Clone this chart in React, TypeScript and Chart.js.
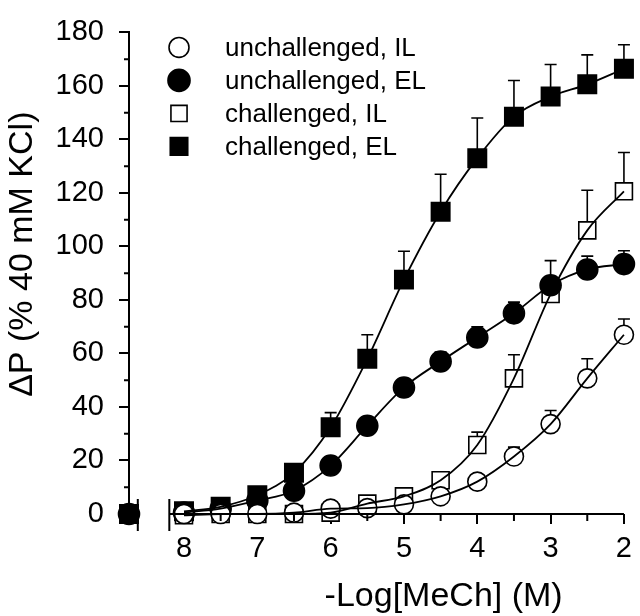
import React, { useEffect, useRef } from "react";
import { Chart, registerables } from "chart.js";

Chart.register(...registerables);

// ---- data ----
const doses = [8, 7.5, 7, 6.5, 6, 5.5, 5, 4.5, 4, 3.5, 3, 2.5, 2];
const baselineDose = 8.75;

const seriesLabels = ["unchallenged, IL", "unchallenged, EL", "challenged, IL", "challenged, EL"];

const unchallengedIL = [0, 0, 0, 0.5, 2, 2.2, 3.6, 6.6, 12.1, 21.5, 33.6, 50.7, 67];
const unchallengedILErr = [0, 0, 0, 0, 0, 0, 0.8, 1, 1.5, 3.5, 5.1, 7.3, 5.9];

const unchallengedEL = [0.5, 2, 5, 8.7, 18.1, 33, 47.3, 57, 66, 75, 85.5, 91.4, 93.4];
const unchallengedELErr = [0, 0, 0, 0, 1, 1.5, 2.5, 3.5, 4, 4.2, 3, 5, 5];

const challengedIL = [-0.5, 0, 0, 0, 0.5, 3.9, 6.6, 12.6, 25.8, 50.7, 82.2, 106, 120.6];
const challengedILErr = [0, 0, 0, 0, 0, 0, 0, 1.5, 4.8, 8.8, 12.5, 15, 14.5];

const challengedEL = [1, 2.7, 7, 15.4, 32.4, 58, 87.6, 113, 133, 148.5, 156, 160.6, 166.4];
const challengedELErr = [0, 0, 0, 0, 5.5, 9, 10.6, 14, 15, 13.5, 12, 11, 9];

const baselineValues = [0, 0, 0, 0];

const xMajorTicks = [8, 7, 6, 5, 4, 3, 2];
const xMinorTicks = [7.5, 6.5, 5.5, 4.5, 3.5, 2.5];
const yMinorTicks = [10, 30, 50, 70, 90, 110, 130, 150, 170];
const xBreak = [8.63, 8.2];
const xTitleCenter = 4.5;

const xTitle = "-Log[MeCh] (M)";
const yTitle = "ΔP (% 40 mM KCl)";

const FONT = "'Liberation Sans', Arial, Helvetica, sans-serif";

type Series = {
  label: string;
  values: number[];
  err: number[];
  style: "circle" | "rect";
  filled: boolean;
  radius: number;
};

const series: Series[] = [
  { label: seriesLabels[0], values: unchallengedIL, err: unchallengedILErr, style: "circle", filled: false, radius: 9.5 },
  { label: seriesLabels[1], values: unchallengedEL, err: unchallengedELErr, style: "circle", filled: true, radius: 10.5 },
  { label: seriesLabels[2], values: challengedIL, err: challengedILErr, style: "rect", filled: false, radius: 12 },
  { label: seriesLabels[3], values: challengedEL, err: challengedELErr, style: "rect", filled: true, radius: 13 },
];

function drawMarker(ctx: CanvasRenderingContext2D, s: Series, x: number, y: number, scale: number) {
  ctx.save();
  ctx.lineWidth = 1.6;
  ctx.strokeStyle = "#000";
  ctx.fillStyle = s.filled ? "#000" : "#fff";
  ctx.beginPath();
  if (s.style === "circle") {
    ctx.arc(x, y, s.radius * scale, 0, Math.PI * 2);
  } else {
    const h = s.radius * Math.SQRT1_2 * scale;
    ctx.rect(x - h, y - h, 2 * h, 2 * h);
  }
  ctx.fill();
  ctx.stroke();
  ctx.restore();
}

const errorBarPlugin = {
  id: "errorBars",
  beforeDatasetsDraw(chart: any) {
    const { ctx, scales } = chart;
    const x = scales.x;
    const y = scales.y;
    ctx.save();
    ctx.strokeStyle = "#000";
    ctx.lineWidth = 1.6;
    series.forEach((s) => {
      doses.forEach((d, i) => {
        const e = s.err[i];
        if (!e) return;
        const px = x.getPixelForValue(d);
        const p0 = y.getPixelForValue(s.values[i]);
        const p1 = y.getPixelForValue(s.values[i] + e);
        ctx.beginPath();
        ctx.moveTo(px, p0);
        ctx.lineTo(px, p1);
        ctx.moveTo(px - 6, p1);
        ctx.lineTo(px + 6, p1);
        ctx.stroke();
      });
    });
    ctx.restore();
  },
};

const axisPlugin = {
  id: "brokenAxis",
  afterDatasetsDraw(chart: any) {
    const { ctx, chartArea, scales } = chart;
    const x = scales.x;
    const y = scales.y;
    const yb = chartArea.bottom;
    ctx.save();
    ctx.strokeStyle = "#000";
    ctx.lineWidth = 2;
    const bL = x.getPixelForValue(xBreak[0]);
    const bR = x.getPixelForValue(xBreak[1]);
    ctx.beginPath();
    ctx.moveTo(chartArea.left, yb);
    ctx.lineTo(bL, yb);
    ctx.moveTo(bR, yb);
    ctx.lineTo(chartArea.right, yb);
    ctx.stroke();
    ctx.beginPath();
    ctx.moveTo(bL, yb - 15);
    ctx.lineTo(bL, yb + 17);
    ctx.moveTo(bR, yb - 15);
    ctx.lineTo(bR, yb + 17);
    ctx.stroke();
    // minor ticks
    ctx.beginPath();
    xMinorTicks.forEach((v) => {
      const px = x.getPixelForValue(v);
      ctx.moveTo(px, yb);
      ctx.lineTo(px, yb + 7);
    });
    yMinorTicks.forEach((v) => {
      const py = y.getPixelForValue(v);
      ctx.moveTo(chartArea.left, py);
      ctx.lineTo(chartArea.left - 5, py);
    });
    ctx.stroke();
    ctx.restore();
  },
  afterDraw(chart: any) {
    const { ctx, chartArea, scales } = chart;
    const x = scales.x;
    ctx.save();
    ctx.fillStyle = "#000";
    // legend
    ctx.font = `26px ${FONT}`;
    ctx.textBaseline = "middle";
    ctx.textAlign = "left";
    series.forEach((s, i) => {
      const ly = chartArea.top + 15 + i * 33;
      const lx = chartArea.left + 50;
      drawMarker(ctx, s, lx, ly, s.style === "circle" ? 1.05 : 0.95);
      ctx.fillStyle = "#000";
      ctx.fillText(s.label, chartArea.left + 96, ly + 1);
    });
    // x title
    ctx.font = `34px ${FONT}`;
    ctx.textAlign = "center";
    ctx.textBaseline = "alphabetic";
    ctx.fillText(xTitle, x.getPixelForValue(xTitleCenter) + 3, chartArea.bottom + 92);
    // y title
    ctx.translate(32, (chartArea.top + chartArea.bottom) / 2 - 19);
    ctx.rotate(-Math.PI / 2);
    ctx.fillText(yTitle, 0, 0);
    ctx.restore();
  },
};

export default function App() {
  const ref = useRef<HTMLCanvasElement | null>(null);

  useEffect(() => {
    if (!ref.current) return;
    Chart.defaults.font.family = FONT;
    Chart.defaults.color = "#000";

    const lineSets = series.map((s) => ({
      label: s.label + " fit",
      data: doses.map((d, i) => ({ x: d, y: s.values[i] })),
      showLine: true,
      borderColor: "#000",
      borderWidth: 1.8,
      pointRadius: 0,
      fill: false,
      cubicInterpolationMode: "monotone" as const,
      clip: false as any,
    }));

    const pointSets = series.map((s) => ({
      label: s.label,
      data: doses.map((d, i) => ({ x: d, y: s.values[i] })),
      showLine: false,
      pointStyle: s.style,
      pointRadius: s.radius,
      pointBorderWidth: 1.6,
      pointBorderColor: "#000",
      pointBackgroundColor: s.filled ? "#000" : "#fff",
      clip: false as any,
    }));

    const baseOrder = [1, 3, 0, 2];
    const baseSets = baseOrder.map((k) => {
      const s = series[k];
      return {
        label: s.label + " baseline",
        data: [{ x: baselineDose, y: baselineValues[k] }],
        showLine: false,
        pointStyle: s.style,
        pointRadius: s.radius,
        pointBorderWidth: 1.6,
        pointBorderColor: "#000",
        pointBackgroundColor: s.filled ? "#000" : "#fff",
        clip: false as any,
      };
    });

    const chart = new Chart(ref.current, {
      type: "line",
      data: { datasets: [...lineSets, ...pointSets, ...baseSets] as any },
      options: {
        animation: false,
        responsive: false,
        maintainAspectRatio: false,
        layout: { padding: { top: 20, right: 10, left: 0, bottom: 0 } },
        plugins: {
          legend: { display: false },
          tooltip: { enabled: false },
        },
        scales: {
          x: {
            type: "linear",
            reverse: true,
            min: 2,
            max: baselineDose,
            afterBuildTicks: (s: any) => {
              s.ticks = xMajorTicks.map((v) => ({ value: v }));
            },
            afterFit: (s: any) => {
              s.height = 102;
            },
            ticks: {
              autoSkip: false,
              maxRotation: 0,
              padding: 8,
              color: "#000",
              font: { size: 29, family: FONT },
              callback: (v: any) => String(v),
            },
            grid: {
              drawOnChartArea: false,
              drawTicks: true,
              tickLength: 10,
              color: "#000",
              lineWidth: 2,
            },
            border: { display: false },
          },
          y: {
            type: "linear",
            min: 0,
            max: 180,
            afterFit: (s: any) => {
              s.width = 129;
            },
            ticks: {
              stepSize: 20,
              padding: 15,
              color: "#000",
              font: { size: 29, family: FONT },
            },
            grid: {
              drawOnChartArea: false,
              drawTicks: true,
              tickLength: 10,
              color: "#000",
              lineWidth: 2,
            },
            border: { display: true, color: "#000", width: 2 },
          },
        },
      },
      plugins: [errorBarPlugin, axisPlugin],
    });
    return () => chart.destroy();
  }, []);

  return (
    <div style={{ position: "fixed", left: 0, top: 0, width: 640, height: 616, background: "#fff" }}>
      <canvas ref={ref} width={640} height={616} style={{ display: "block" }} />
    </div>
  );
}
